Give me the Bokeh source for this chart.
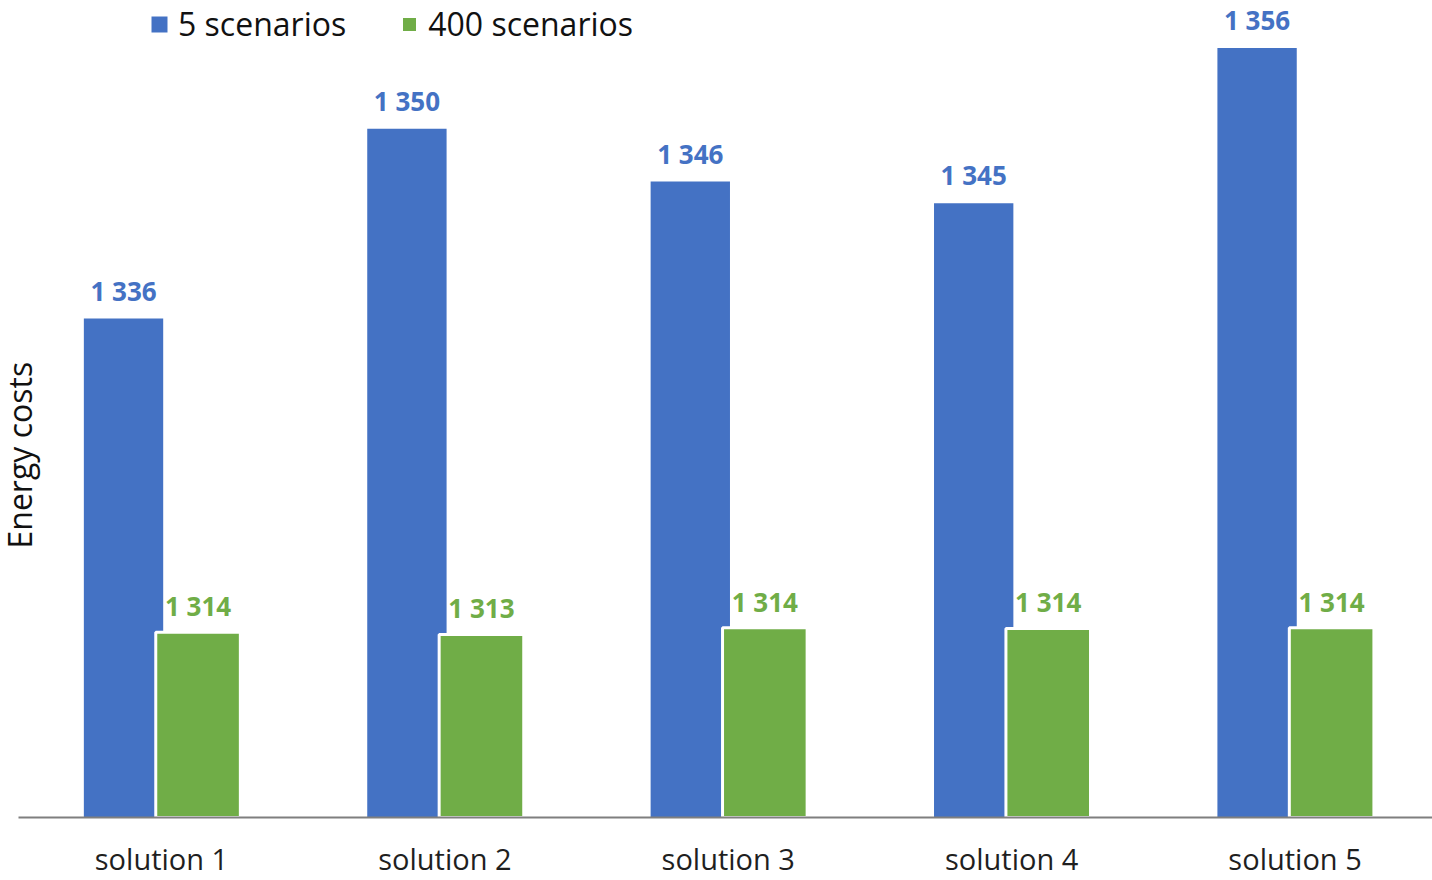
import math
from bokeh.plotting import figure
from bokeh.models import Range1d, FixedTicker, ColumnDataSource, LabelSet, Legend, LegendItem, Title
from bokeh.transform import dodge
from bokeh.core.properties import value
from bokeh.embed import file_html
from bokeh.resources import INLINE

categories = ["solution 1", "solution 2", "solution 3", "solution 4", "solution 5"]
series_names = ["5 scenarios", "400 scenarios"]
costs_5 = [1336.42, 1350.27, 1346.42, 1344.84, 1356.18]
costs_400 = [1313.52, 1313.36, 1313.85, 1313.80, 1313.85]
y_label = "Energy costs"

BLUE = "#4472C4"
GREEN = "#70AD47"
FONT = "Open Sans"


def fmt(v):
    return f"{round(v):,}".replace(",", " ")


idx = list(range(len(categories)))

p = figure(width=1432, height=880,
           x_range=Range1d(-0.5046, 4.485), y_range=Range1d(1300, 1359.64),
           output_backend="svg", toolbar_location=None,
           min_border_left=18, min_border_right=0, min_border_top=0, min_border_bottom=63)
p.outline_line_color = None
p.grid.visible = False
p.yaxis.visible = False
p.background_fill_color = "white"

src5 = ColumnDataSource(dict(x=idx, top=costs_5, label=[fmt(v) for v in costs_5]))
src400 = ColumnDataSource(dict(x=idx, top=costs_400, label=[fmt(v) for v in costs_400]))

r5 = p.vbar(x=dodge("x", -0.134, range=p.x_range), top="top", bottom=1300, width=0.28,
            source=src5, fill_color=BLUE, line_color=None)
r400 = p.vbar(x=dodge("x", 0.129, range=p.x_range), top="top", bottom=1300, width=0.2985,
              source=src400, fill_color=GREEN, line_color="white", line_width=3)

p.add_layout(LabelSet(x=dodge("x", -0.134, range=p.x_range), y="top", text="label", source=src5,
                      text_align="center", text_baseline="alphabetic", y_offset=18,
                      text_font=value(FONT), text_font_style="bold", text_font_size="26px",
                      text_color=BLUE))
p.add_layout(LabelSet(x=dodge("x", 0.129, range=p.x_range), y="top", text="label", source=src400,
                      text_align="center", text_baseline="alphabetic", y_offset=16,
                      text_font=value(FONT), text_font_style="bold", text_font_size="26px",
                      text_color=GREEN))

xa = p.xaxis[0]
xa.ticker = FixedTicker(ticks=idx)
xa.major_label_overrides = {i: c for i, c in zip(idx, categories)}
xa.major_tick_line_color = None
xa.minor_tick_line_color = None
xa.axis_line_color = "#7f7f7f"
xa.axis_line_width = 2
xa.major_label_text_font = FONT
xa.major_label_text_font_size = "29px"
xa.major_label_text_color = "#1f1f1f"
xa.major_label_standoff = 15

p.add_layout(Title(text=y_label, align="left", offset=269, standoff=-45,
                   text_font=FONT, text_font_style="normal", text_font_size="32px",
                   text_color="#111111"), "left")

legend = Legend(items=[LegendItem(label=series_names[0], renderers=[r5]),
                       LegendItem(label=series_names[1], renderers=[r400])],
                location=(131, 772), orientation="horizontal",
                glyph_width=20, glyph_height=20, label_standoff=9, spacing=53,
                padding=0, margin=0, border_line_color=None, background_fill_alpha=0,
                label_text_font=FONT, label_text_font_size="32px", label_text_color="#111111")
p.add_layout(legend)

open("out.html", "w").write(file_html(p, INLINE))
